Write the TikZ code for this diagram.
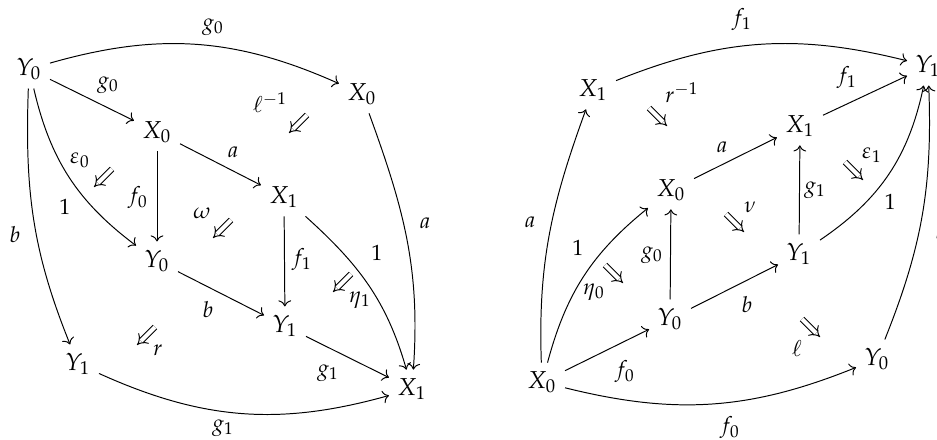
\documentclass[tikz,border=0pt]{standalone}
\usepackage{mathpazo}
\usetikzlibrary{arrows.meta,cd}
\begin{document}
\begin{tikzpicture}[x=0.408pt,y=0.408pt,
  ob/.style={inner sep=3.3pt},
  lb/.style={inner sep=0pt, font=\small},
  mor/.style={-{cm to}, line width=0.4pt},
  cell/.style={double, double distance=1.7pt, line width=0.4pt, -{Implies}}]
\useasboundingbox (0,0) rectangle (937,-440);
% ---------- left diagram ----------
\node[ob] (Ya) at (29,-69) {$Y_0$};
\node[ob] (Xa) at (362,-94) {$X_0$};
\node[ob] (Xb) at (157,-132) {$X_0$};
\node[ob] (Xc) at (284,-197) {$X_1$};
\node[ob] (Yb) at (157,-261) {$Y_0$};
\node[ob] (Yc) at (285,-326) {$Y_1$};
\node[ob] (Yd) at (78,-364) {$Y_1$};
\node[ob] (Xd) at (412,-389) {$X_1$};
\draw[mor] (Ya) to[bend left=20] (Xa);
\draw[mor] (Ya) -- (Xb);
\draw[mor] (Xb) -- (Xc);
\draw[mor] (Xb) -- (Yb);
\draw[mor] (Xc) -- (Yc);
\draw[mor] (Yb) -- (Yc);
\draw[mor] (Yc) -- (Xd);
\draw[mor] (Ya) to[bend right=20] (Yb);
\draw[mor] (Ya) to[out=-92,in=112] (Yd);
\draw[mor] (Yd) to[bend right=20] (Xd);
\draw[mor] (Xa) to[out=-70,in=86] (Xd);
\draw[mor] (Xc) to[out=-42,in=106] (Xd);
% labels
\node[lb] (l1) at (213,-27) {$g_0$};
\node[lb] (l2) at (108,-85) {$g_0$};
\node[lb] (l3) at (270,-103) {$\ell^{-1}$};
\node[lb] (l4) at (233,-152) {$a$};
\node[lb] (l5) at (80,-160) {$\varepsilon_0$};
\node[lb] (l6) at (65,-207) {$1$};
\node[lb] (l7) at (138,-198) {$f_0$};
\node[lb] (l8) at (202,-213) {$\omega$};
\node[lb] (l9) at (302,-260) {$f_1$};
\node[lb] (l10) at (377,-253) {$1$};
\node[lb] (l11) at (360,-300) {$\eta_1$};
\node[lb] (l12) at (208,-310) {$b$};
\node[lb] (l13) at (15,-235) {$b$};
\node[lb] (l14) at (158,-350) {$r$};
\node[lb] (l15) at (328,-373) {$g_1$};
\node[lb] (l16) at (223,-428) {$g_1$};
\node[lb] (l17) at (425,-223) {$a$};
% 2-cells
\coordinate (c1s) at (307,-115); \coordinate (c1e) at (289,-133);
\coordinate (c2s) at (112,-169); \coordinate (c2e) at (94,-187);
\coordinate (c3s) at (231,-220); \coordinate (c3e) at (213,-238);
\coordinate (c4s) at (351,-274); \coordinate (c4e) at (333,-292);
\coordinate (c5s) at (155,-327); \coordinate (c5e) at (137,-345);
\draw[cell] (c1s) -- (c1e);
\draw[cell] (c2s) -- (c2e);
\draw[cell] (c3s) -- (c3e);
\draw[cell] (c4s) -- (c4e);
\draw[cell] (c5s) -- (c5e);
% ---------- right diagram ----------
\node[ob] (Xe) at (593,-90) {$X_1$};
\node[ob] (Yf) at (928,-66) {$Y_1$};
\node[ob] (Xf) at (800,-126) {$X_1$};
\node[ob] (Xg) at (671,-190) {$X_0$};
\node[ob] (Yg) at (799,-254) {$Y_1$};
\node[ob] (Yh) at (670,-319) {$Y_0$};
\node[ob] (Xh) at (542,-382) {$X_0$};
\node[ob] (Yi) at (877,-359) {$Y_0$};
\draw[mor] (Xh) to[out=92,in=-110] (Xe);
\draw[mor] (Xh) to[bend left=18] (Xg);
\draw[mor] (Xh) -- (Yh);
\draw[mor] (Xh) to[bend right=18] (Yi);
\draw[mor] (Xe) to[bend left=18] (Yf);
\draw[mor] (Xg) -- (Xf);
\draw[mor] (Xf) -- (Yf);
\draw[mor] (Yh) -- (Xg);
\draw[mor] (Yh) -- (Yg);
\draw[mor] (Yg) -- (Xf);
\draw[mor] (Yg) to[bend right=22] (Yf);
\draw[mor] (Yi) to[bend right=12] (Yf);
% labels
\node[lb] (m1) at (742,-20) {$f_1$};
\node[lb] (m2) at (847,-78) {$f_1$};
\node[lb] (m3) at (682,-93) {$r^{-1}$};
\node[lb] (m4) at (722,-147) {$a$};
\node[lb] (m5) at (815,-190) {$g_1$};
\node[lb] (m6) at (872,-155) {$\varepsilon_1$};
\node[lb] (m7) at (890,-202) {$1$};
\node[lb] (m8) at (750,-207) {$\nu$};
\node[lb] (m9) at (652,-255) {$g_0$};
\node[lb] (m10) at (530,-222) {$a$};
\node[lb] (m11) at (578,-248) {$1$};
\node[lb] (m12) at (594,-292) {$\eta_0$};
\node[lb] (m13) at (747,-305) {$b$};
\node[lb] (m14) at (625,-372) {$f_0$};
\node[lb] (m15) at (730,-428) {$f_0$};
\node[lb] (m16) at (797,-348) {$\ell$};
\node[lb] (m17) at (941,-232) {$b$};
% 2-cells
\coordinate (d1s) at (649,-108); \coordinate (d1e) at (667,-126);
\coordinate (d2s) at (845,-162); \coordinate (d2e) at (863,-180);
\coordinate (d3s) at (726,-214); \coordinate (d3e) at (744,-232);
\coordinate (d4s) at (605,-265); \coordinate (d4e) at (623,-283);
\coordinate (d5s) at (802,-319); \coordinate (d5e) at (820,-337);
\draw[cell] (d1s) -- (d1e);
\draw[cell] (d2s) -- (d2e);
\draw[cell] (d3s) -- (d3e);
\draw[cell] (d4s) -- (d4e);
\draw[cell] (d5s) -- (d5e);
\end{tikzpicture}
\end{document}
